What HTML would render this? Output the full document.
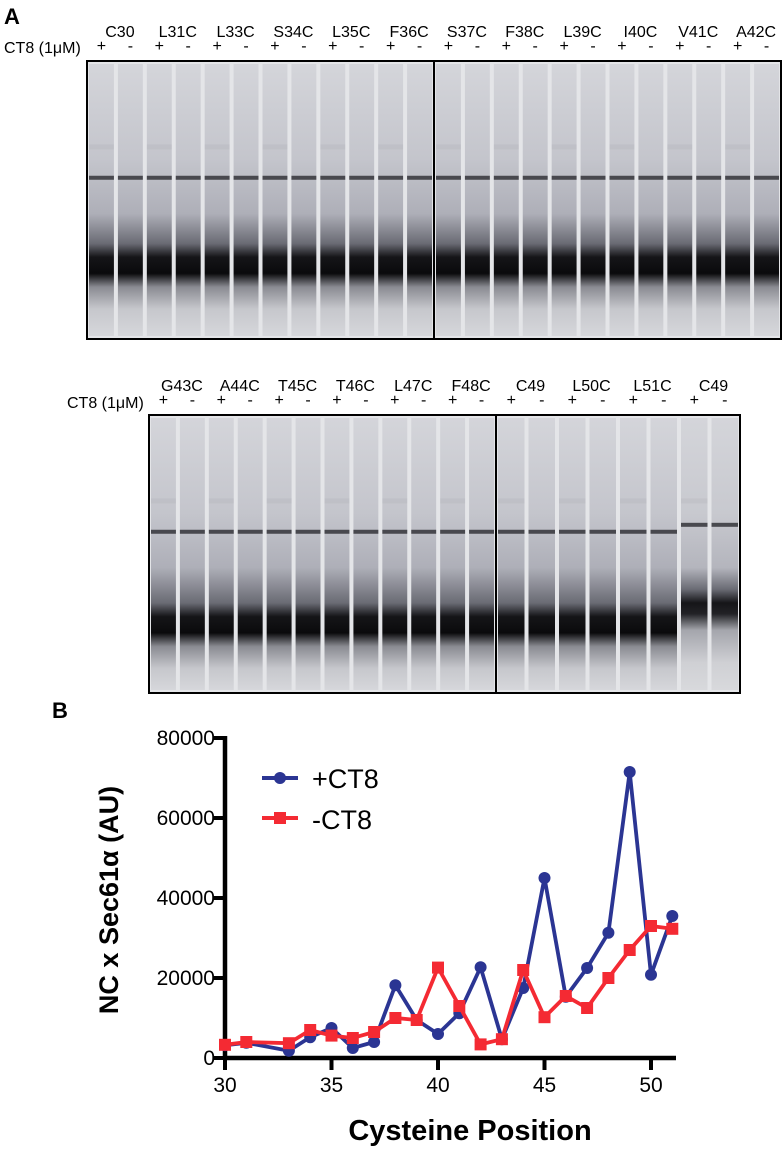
<!DOCTYPE html>
<html><head><meta charset="utf-8"><style>
html,body{margin:0;padding:0;background:#fff;}
body{width:784px;height:1150px;overflow:hidden;font-family:"Liberation Sans",sans-serif;}
svg text{font-family:"Liberation Sans",sans-serif;}
</style></head><body>
<svg id="fig" width="784" height="1150" viewBox="0 0 784 1150">
<defs>
<linearGradient id="laneG" x1="0" y1="0" x2="0" y2="1">
<stop offset="0" stop-color="#d4d5da"/>
<stop offset="0.35" stop-color="#c4c5cc"/>
<stop offset="0.55" stop-color="#aeafb8"/>
<stop offset="0.66" stop-color="#6a6b74"/>
<stop offset="0.71" stop-color="#151518"/>
<stop offset="0.77" stop-color="#0a0a0c"/>
<stop offset="0.82" stop-color="#8a8b92"/>
<stop offset="0.9" stop-color="#c6c7cc"/>
<stop offset="1" stop-color="#d6d7db"/>
</linearGradient>
<linearGradient id="laneGB" x1="0" y1="0" x2="0" y2="1">
<stop offset="0" stop-color="#d4d5da"/>
<stop offset="0.35" stop-color="#c4c5cc"/>
<stop offset="0.55" stop-color="#aeafb8"/>
<stop offset="0.68" stop-color="#6a6b74"/>
<stop offset="0.73" stop-color="#151518"/>
<stop offset="0.79" stop-color="#0a0a0c"/>
<stop offset="0.84" stop-color="#8a8b92"/>
<stop offset="0.92" stop-color="#c6c7cc"/>
<stop offset="1" stop-color="#d6d7db"/>
</linearGradient>
<linearGradient id="laneG2" x1="0" y1="0" x2="0" y2="1">
<stop offset="0" stop-color="#d4d5da"/>
<stop offset="0.35" stop-color="#c8c9cf"/>
<stop offset="0.55" stop-color="#b4b5bd"/>
<stop offset="0.63" stop-color="#6a6b74"/>
<stop offset="0.68" stop-color="#151518"/>
<stop offset="0.72" stop-color="#222226"/>
<stop offset="0.78" stop-color="#a4a5ac"/>
<stop offset="0.9" stop-color="#cfd0d4"/>
<stop offset="1" stop-color="#d8d9dc"/>
</linearGradient>
</defs>
<text x="4" y="24" font-size="22" font-weight="bold">A</text>
<g id="gels"></g>
<text x="52" y="718" font-size="22" font-weight="bold">B</text>
<g id="chart"></g>
</svg>
<script>
// ---- Gel lane labels ----
const gelANames = ["C30","L31C","L33C","S34C","L35C","F36C","S37C","F38C","L39C","I40C","V41C","A42C"];
const gelBNames = ["G43C","A44C","T45C","T46C","L47C","F48C","C49","L50C","L51C","C49"];
const NS="http://www.w3.org/2000/svg";
const gels=document.getElementById('gels');
function mk(tag,attrs,parent){const e=document.createElementNS(NS,tag);for(const k in attrs)e.setAttribute(k,attrs[k]);(parent||gels).appendChild(e);return e;}
function drawGel(x0,y0,x1,y1,div,names,grad,tag,specialLast){
  const g=mk('g',{});
  
  
  mk('rect',{x:x0,y:y0,width:x1-x0,height:y1-y0,fill:'#e4e5e8'},g);
  const segs=[[x0,div,12],[div,x1,(names.length*2)-12]];
  let lanes=[];
  segs.forEach(s=>{const w=(s[1]-s[0])/s[2];for(let i=0;i<s[2];i++)lanes.push([s[0]+i*w,w]);});
  lanes.forEach((l,i)=>{
    const special=specialLast&&i>=lanes.length-2;
    const r=mk('rect',{x:l[0]+2,y:y0+3,width:l[1]-4,height:y1-y0-6,fill:special?'url(#laneG2)':'url(#'+grad+')'},g);
    
    
    const by=y0+(y1-y0)*(special?0.395:0.42);
    mk('rect',{x:l[0]+2,y:by-2,width:l[1]-4,height:4,fill:'#2a2a30',opacity:0.8},g);
    if(i%2===0){mk('rect',{x:l[0]+2,y:y0+(y1-y0)*0.3,width:l[1]-4,height:5,fill:'#999aa3',opacity:0.15},g);}
    const t=mk('text',{x:l[0]+l[1]/2,y:y0-10,'font-size':16,'text-anchor':'middle'});
    t.textContent=i%2===0?'+':'-';
  });
  for(let k=0;k<names.length;k++){
    const a=lanes[2*k],b=lanes[2*k+1];
    const t=mk('text',{x:(a[0]+b[0]+b[1])/2+4,y:y0-24,'font-size':16,'text-anchor':'middle'});
    t.textContent=names[k];
  }
  mk('rect',{x:x0,y:y0,width:x1-x0,height:y1-y0,fill:'none',stroke:'#000','stroke-width':2},g);
  mk('line',{x1:div,y1:y0,x2:div,y2:y1,stroke:'#000','stroke-width':2},g);
}
drawGel(87,61,781,339,434,gelANames,'laneG','gel-top',false);
drawGel(149,415,740,693,496,gelBNames,'laneGB','gel-bottom',true);
let ta=mk('text',{x:4,y:53,'font-size':16});ta.textContent='CT8 (1\u03bcM)';
let tb=mk('text',{x:67,y:408,'font-size':16});tb.textContent='CT8 (1\u03bcM)';

// ---- Chart data ----
const positions=[30,31,33,34,35,36,37,38,39,40,41,42,43,44,45,46,47,48,49,50,51];
const plusCT8=[3200,3800,1800,5200,7500,2500,4000,18200,9500,6000,11200,22700,4700,17500,45000,15300,22500,31300,71500,20800,35500];
const minusCT8=[3300,4000,3700,7000,5600,5000,6500,10000,9500,22600,13000,3400,4700,22000,10200,15500,12500,20000,27000,33000,32300];
const yTicks=[0,20000,40000,60000,80000];
const xTicks=[30,35,40,45,50];
const ch=document.getElementById('chart');
const X=v=>225+(v-30)*21.3;
const Y=v=>1058-v*0.004;
function c(tag,attrs){return mk(tag,attrs,ch);}
c('line',{x1:225,y1:Y(80000)-2,x2:225,y2:1060,stroke:'#000','stroke-width':4.5});
c('line',{x1:223,y1:1058,x2:676,y2:1058,stroke:'#000','stroke-width':4.5});
yTicks.forEach(v=>{
  c('line',{x1:213,y1:Y(v),x2:225,y2:Y(v),stroke:'#000','stroke-width':4});
  const t=c('text',{x:215,y:Y(v)+7,'font-size':21,'text-anchor':'end'});t.textContent=v;
  
});
xTicks.forEach(v=>{
  c('line',{x1:X(v),y1:1058,x2:X(v),y2:1070,stroke:'#000','stroke-width':4});
  const t=c('text',{x:X(v),y:1092,'font-size':21,'text-anchor':'middle'});t.textContent=v;
  
});
const yt=c('text',{x:0,y:0,'font-size':27,'font-weight':'bold','text-anchor':'middle',transform:'translate(118,900) rotate(-90)'});
yt.textContent='NC x Sec61\u03b1 (AU)';

const xt=c('text',{x:470,y:1140,'font-size':29,'font-weight':'bold','text-anchor':'middle'});
xt.textContent='Cysteine Position';

function series(vals,color,shape,name){
  const p=c('polyline',{points:positions.map((x,i)=>X(x)+','+Y(vals[i])).join(' '),fill:'none',stroke:color,'stroke-width':3.8,'stroke-linejoin':'miter'});
  
  positions.forEach((x,i)=>{
    let m;
    if(shape==='circle')m=c('circle',{cx:X(x),cy:Y(vals[i]),r:6,fill:color});
    else m=c('rect',{x:X(x)-6,y:Y(vals[i])-6,width:12,height:12,fill:color});
    
  });
}
series(plusCT8,'#2b3593','circle','plus-ct8');
series(minusCT8,'#f42a33','square','minus-ct8');
// legend
c('line',{x1:262,y1:778,x2:298,y2:778,stroke:'#2b3593','stroke-width':4});
c('circle',{cx:280,cy:778,r:6,fill:'#2b3593'});
const l1=c('text',{x:312,y:788,'font-size':27});l1.textContent='+CT8';

c('line',{x1:262,y1:818,x2:298,y2:818,stroke:'#f42a33','stroke-width':4});
c('rect',{x:274,y:812,width:12,height:12,fill:'#f42a33'});
const l2=c('text',{x:312,y:829,'font-size':27});l2.textContent='-CT8';

</script>
</body></html>
